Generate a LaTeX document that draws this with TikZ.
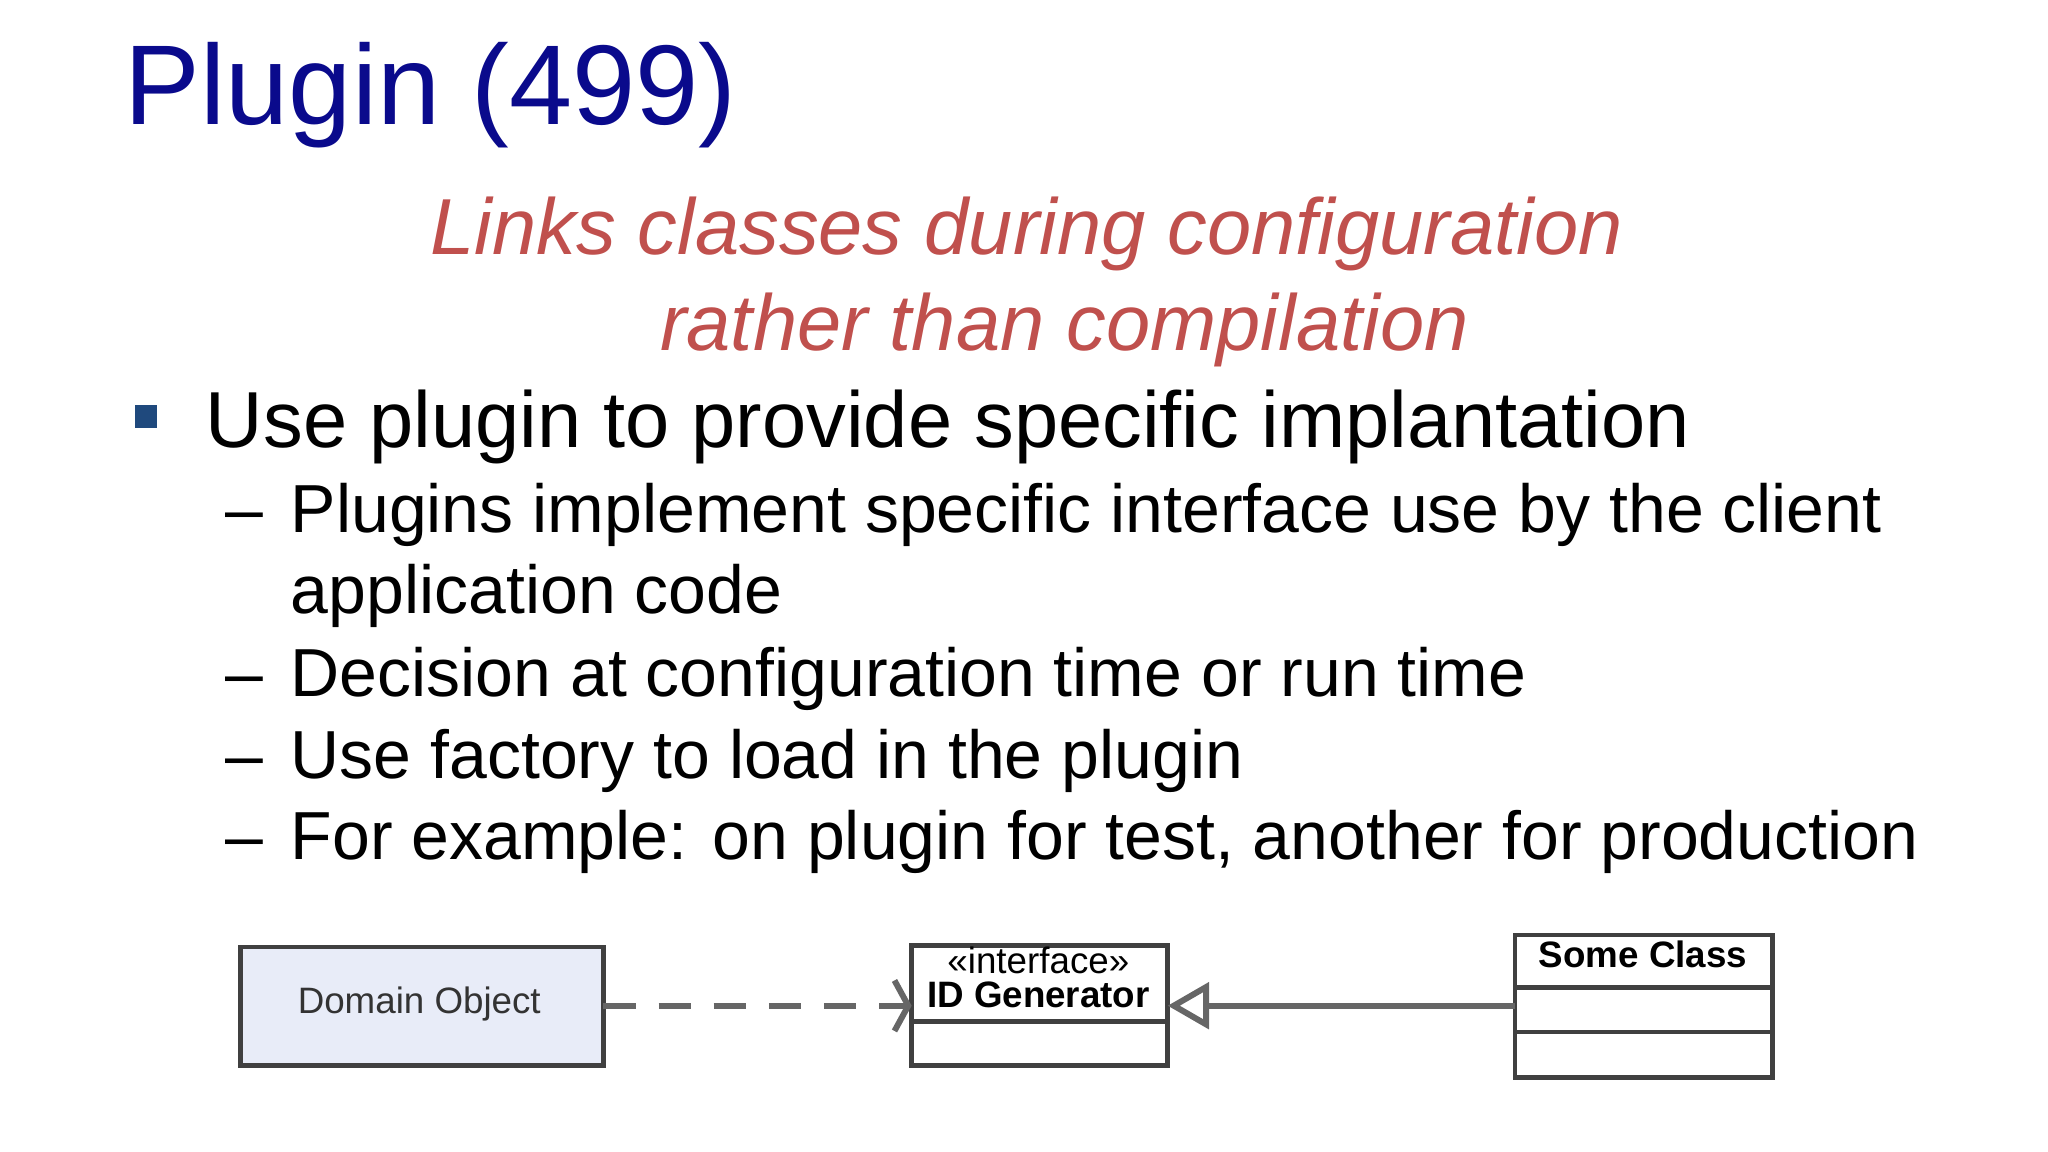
\documentclass[tikz,border=0pt]{standalone}
\usepackage{fontspec}
\setmainfont{Liberation Sans}
\usetikzlibrary{arrows.meta}
\definecolor{ttl}{RGB}{10,10,140}
\definecolor{sub}{RGB}{192,80,77}
\definecolor{bul}{RGB}{31,73,125}
\definecolor{dom}{RGB}{232,236,248}
\tikzset{
 px/.style={x=0.01cm,y=-0.01cm},
 txt/.style={anchor=base west,inner sep=0},
 uml/.style={draw=black!75,line width=1pt},
 umltxt/.style={font=\fontsize{8.0}{9}\selectfont,inner sep=0,anchor=base}
}
\begin{document}
\begin{tikzpicture}[px]
\useasboundingbox (0,0) rectangle (1568,882);
\node[txt,text=ttl,font=\fontsize{24.7}{28}\selectfont] (title) at (95,95) {Plugin (499)};
\node[anchor=base,inner sep=0,text=sub,font=\fontsize{17.3}{20}\selectfont\itshape] (s1) at (786,195) {Links classes during configuration};
\node[anchor=base,inner sep=0,text=sub,font=\fontsize{17.3}{20}\selectfont\itshape] (s2) at (815,268) {rather than compilation};
\fill[bul] (103,310) rectangle (120,328);
\node[txt,font=\fontsize{17.3}{20}\selectfont] (b1) at (157,343) {Use plugin to provide specific implantation};
\foreach \y/\t [count=\i] in {408/Plugins implement specific interface use by the client,533/Decision at configuration time or run time,596/Use factory to load in the plugin,658/{For example: on plugin for test, another for production}}{
 \node[txt,font=\fontsize{14.8}{18}\selectfont] (d\i) at (172,\y) {--};
 \node[txt,font=\fontsize{14.8}{18}\selectfont] (t\i) at (222,\y) {\t};
}
\node[txt,font=\fontsize{14.8}{18}\selectfont] (t1b) at (222,470) {application code};
% diagram
\draw[uml,fill=dom] (184,725) rectangle (462,816);
\node[umltxt,text=black!80] (dobj) at (321,776) {Domain Object};
\coordinate (dR) at (462,770);
\draw[uml] (698,724) rectangle (894,816);
\draw[uml] (698,782) -- (894,782);
\node[umltxt] (st) at (795,745) {«interface»};
\node[umltxt,font=\fontsize{8.0}{9}\selectfont\bfseries] (idg) at (795,771) {ID Generator};
\coordinate (iL) at (698,770);
\coordinate (iR) at (894,770);
\draw[uml] (1160,716) rectangle (1357,825);
\draw[uml] (1160,756) -- (1357,756);
\draw[uml] (1160,790) -- (1357,790);
\node[umltxt,font=\fontsize{8.0}{9}\selectfont\bfseries] (sc) at (1258,741) {Some Class};
\coordinate (sL) at (1160,770);
\draw[black!60,line width=1.3pt,dash pattern=on 7pt off 5pt,-{Straight Barb[length=3pt,width=11pt]}] (dR) -- (iL);
\draw[black!60,line width=1.3pt,-{Triangle[open,length=9pt,width=10pt,fill=white]}] (sL) -- (iR);
\end{tikzpicture}
\end{document}
